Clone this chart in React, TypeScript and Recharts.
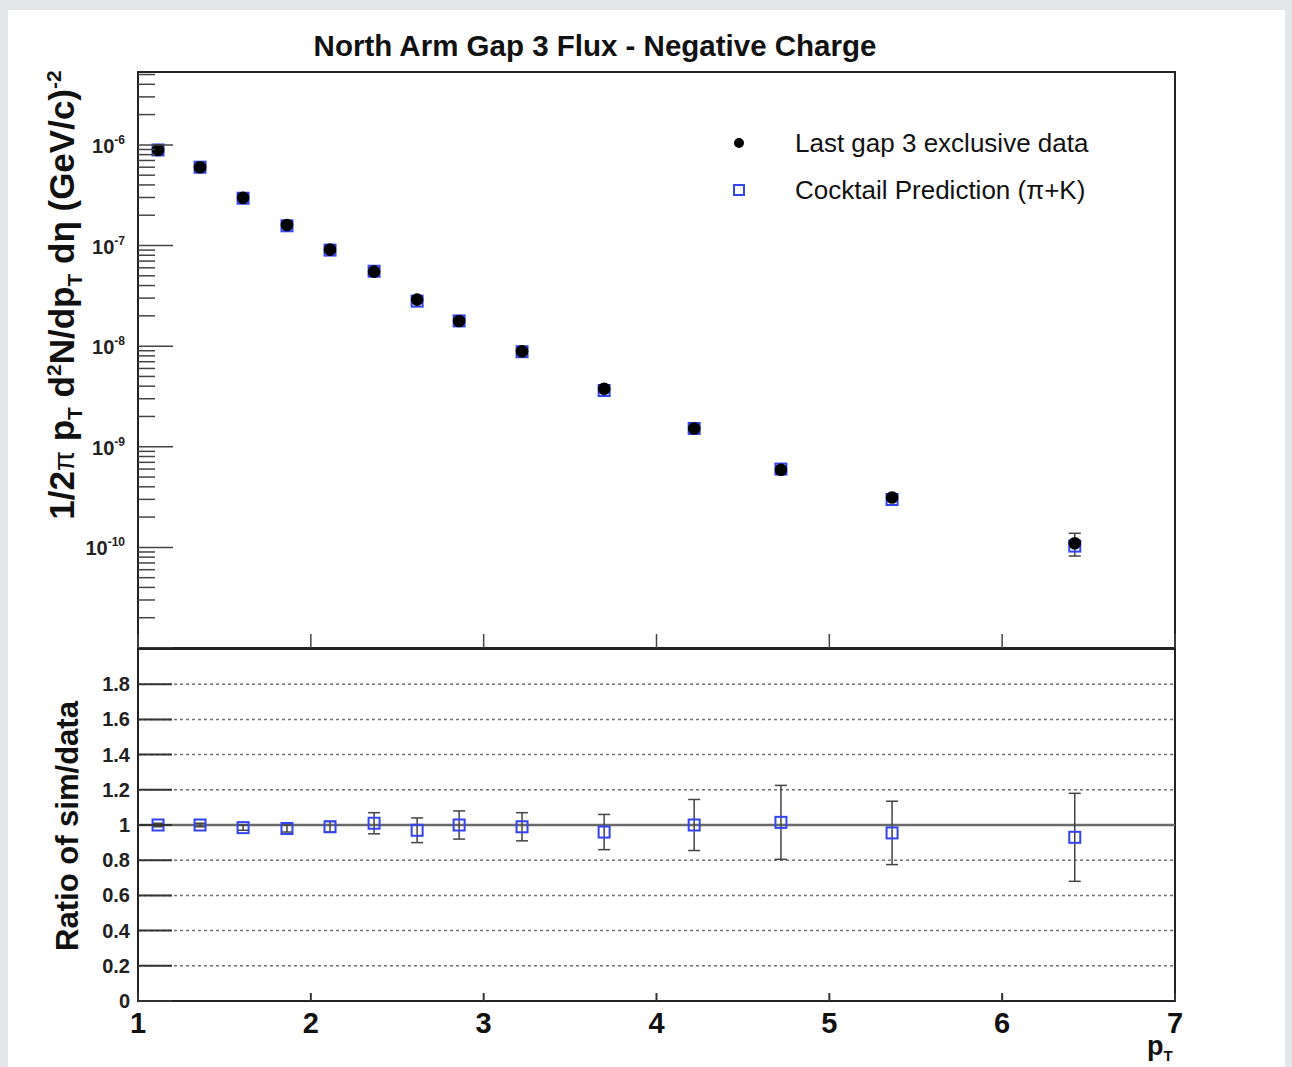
import React from "react"
import {
  ScatterChart,
  Scatter,
  XAxis,
  YAxis,
  ErrorBar,
  CartesianGrid,
  ReferenceLine,
  ReferenceArea,
} from "recharts"

// pT bin centres (GeV/c)
const ptBins = [1.116, 1.359, 1.608, 1.862, 2.111, 2.366, 2.615, 2.858, 3.222, 3.697, 4.218, 4.72, 5.363, 6.42]

// invariant yield, data and cocktail
const dataYield = [8.9e-7, 6.0e-7, 2.98e-7, 1.6e-7, 9.1e-8, 5.5e-8, 2.9e-8, 1.78e-8, 8.9e-9, 3.77e-9, 1.52e-9, 5.9e-10, 3.13e-10, 1.1e-10]
const dataErr = [0, 0, 0, 0, 0, 0, 0, 0, 0, 0, 0, 0.3e-10, 0.15e-10, 0.28e-10]
const cocktailYield = [8.9e-7, 6.0e-7, 2.95e-7, 1.57e-7, 9.0e-8, 5.55e-8, 2.8e-8, 1.78e-8, 8.8e-9, 3.62e-9, 1.52e-9, 6.0e-10, 2.99e-10, 1.03e-10]

// sim / data
const ratio = [1.0, 1.0, 0.985, 0.98, 0.99, 1.01, 0.97, 1.0, 0.99, 0.96, 1.0, 1.015, 0.955, 0.93]
const ratioErr = [0.01, 0.01, 0.015, 0.02, 0.03, 0.06, 0.07, 0.08, 0.08, 0.1, 0.145, 0.21, 0.18, 0.25]

const xTicks = [1, 2, 3, 4, 5, 6, 7]
const ratioTicks = [0, 0.2, 0.4, 0.6, 0.8, 1, 1.2, 1.4, 1.6, 1.8]
const decadeExp = [-11, -10, -9, -8, -7, -6]
const minorSteps = [2, 3, 4, 5, 6, 7, 8, 9]
const logDomain: [number, number] = [1e-11, 5.3e-6]

const logTicks: number[] = []
decadeExp.forEach((e) => {
  logTicks.push(Math.pow(10, e))
  minorSteps.forEach((m) => {
    const v = m * Math.pow(10, e)
    if (v <= logDomain[1]) logTicks.push(v)
  })
})

const FONT = "'Liberation Sans', Arial, Helvetica, sans-serif"
const BLUE = "#3344f0"

const topData = ptBins.map((pt, i) => ({ pt, y: dataYield[i], err: dataErr[i] }))
const cocktailData = ptBins.map((pt, i) => ({ pt, y: cocktailYield[i] }))
const ratioData = ptBins.map((pt, i) => ({ pt, r: ratio[i], err: ratioErr[i] }))

const Dot = (p: any) => <circle cx={p.cx} cy={p.cy} r={6.3} fill="#000" />
const Square = (p: any) => (
  <rect x={p.cx - 5.5} y={p.cy - 5.5} width={11} height={11} fill="none" stroke={BLUE} strokeWidth={2} />
)

function LogTick(props: any) {
  const { x, y, payload } = props
  const v = payload.value
  const exp = Math.round(Math.log10(v))
  const major = Math.abs(v - Math.pow(10, exp)) / v < 1e-6
  return (
    <g>
      <line x1={x} x2={x + (major ? 35 : 17)} y1={y} y2={y} stroke="#444" strokeWidth={1.5} />
      {major && exp > -11 && (
        <text x={x - 13} y={y + 8} textAnchor="end" fontFamily={FONT} fontSize={20} fontWeight="bold" fill="#222">
          10
          <tspan dy={-9} fontSize={12}>
            {exp}
          </tspan>
        </text>
      )}
    </g>
  )
}

function RatioTick(props: any) {
  const { x, y, payload } = props
  return (
    <g>
      <line x1={x} x2={x + 34} y1={y} y2={y} stroke="#333" strokeWidth={2} />
      <text x={x - 8} y={y + 7} textAnchor="end" fontFamily={FONT} fontSize={20} fontWeight="bold" fill="#222">
        {payload.value}
      </text>
    </g>
  )
}

function TopXTick(props: any) {
  const { x, y } = props
  return <line x1={x} x2={x} y1={y} y2={y - 14} stroke="#444" strokeWidth={1.5} />
}

function BottomXTick(props: any) {
  const { x, y, payload } = props
  return (
    <g>
      <line x1={x} x2={x} y1={y} y2={y - 8} stroke="#333" strokeWidth={2} />
      <text x={x} y={y + 32} textAnchor="middle" fontFamily={FONT} fontSize={29} fontWeight="bold" fill="#111">
        {payload.value}
      </text>
    </g>
  )
}

export default function App() {
  return (
    <div style={{ position: "absolute", left: 0, top: 0, width: 1292, height: 1067, background: "#e4e6ea", fontFamily: FONT }}>
      <div style={{ position: "absolute", left: 8, top: 10, width: 1277, height: 1057, background: "#fff" }} />

      <div style={{ position: "absolute", left: 0, top: 0 }}>
        <ScatterChart width={1292} height={680} margin={{ top: 72, left: 78, right: 117, bottom: 12 }}>
          <XAxis
            dataKey="pt"
            type="number"
            domain={[1, 7]}
            ticks={xTicks}
            height={20}
            axisLine={false}
            tickLine={false}
            tickSize={0}
            tickMargin={0}
            tick={<TopXTick />}
          />
          <YAxis
            dataKey="y"
            type="number"
            scale="log"
            domain={logDomain}
            allowDataOverflow
            ticks={logTicks}
            interval={0}
            width={60}
            axisLine={false}
            tickLine={false}
            tickSize={0}
            tickMargin={0}
            tick={<LogTick />}
          />
          <Scatter data={cocktailData} shape={Square} isAnimationActive={false} />
          <Scatter data={topData} shape={Dot} isAnimationActive={false}>
            <ErrorBar dataKey="err" direction="y" width={6} stroke="#444" strokeWidth={1.5} />
          </Scatter>
          <ReferenceArea x1={1} x2={7} y1={logDomain[0]} y2={logDomain[1]} fill="none" stroke="#222" strokeWidth={2} />
        </ScatterChart>
      </div>

      <div style={{ position: "absolute", left: 0, top: 640 }}>
        <ScatterChart width={1292} height={427} margin={{ top: 9, left: 78, right: 117, bottom: 26 }}>
          <CartesianGrid vertical={false} horizontal stroke="#707070" strokeDasharray="3 3" strokeWidth={1.5} />
          <XAxis
            dataKey="pt"
            type="number"
            domain={[1, 7]}
            ticks={xTicks}
            height={40}
            axisLine={false}
            tickLine={false}
            tickSize={0}
            tickMargin={0}
            tick={<BottomXTick />}
          />
          <YAxis
            dataKey="r"
            type="number"
            domain={[0, 2]}
            ticks={ratioTicks}
            interval={0}
            width={60}
            axisLine={false}
            tickLine={false}
            tickSize={0}
            tickMargin={0}
            tick={<RatioTick />}
          />
          <ReferenceLine y={1} stroke="#6a6a6a" strokeWidth={2.5} />
          <Scatter data={ratioData} shape={Square} isAnimationActive={false}>
            <ErrorBar dataKey="err" direction="y" width={6} stroke="#444" strokeWidth={1.5} />
          </Scatter>
          <ReferenceArea x1={1} x2={7} y1={0} y2={2} fill="none" stroke="#222" strokeWidth={2} />
        </ScatterChart>
      </div>

      {/* title */}
      <div style={{ position: "absolute", left: 595, top: 46, transform: "translate(-50%, -50%)", fontSize: 29.5, fontWeight: "bold", color: "#111", whiteSpace: "nowrap" }}>
        North Arm Gap 3 Flux - Negative Charge
      </div>

      {/* legend */}
      <svg style={{ position: "absolute", left: 725, top: 130 }} width={30} height={75}>
        <circle cx={14} cy={13} r={5} fill="#000" />
        <rect x={9} y={55} width={10} height={10} fill="none" stroke={BLUE} strokeWidth={2} />
      </svg>
      <div style={{ position: "absolute", left: 795, top: 143, transform: "translateY(-50%)", fontSize: 26, color: "#111", whiteSpace: "nowrap" }}>
        Last gap 3 exclusive data
      </div>
      <div style={{ position: "absolute", left: 795, top: 190, transform: "translateY(-50%)", fontSize: 26, color: "#111", whiteSpace: "nowrap" }}>
        Cocktail Prediction (π+K)
      </div>

      {/* axis titles */}
      <div style={{ position: "absolute", left: 64, top: 295, transform: "translate(-50%, -50%) rotate(-90deg)", fontSize: 35, fontWeight: "bold", color: "#111", whiteSpace: "nowrap" }}>
        1/2<span style={{ fontWeight: "normal", fontSize: 29 }}>π</span> p<sub style={{ fontSize: 21 }}>T</sub> d<sup style={{ fontSize: 21 }}>2</sup>N/dp<sub style={{ fontSize: 21 }}>T</sub> dη (GeV/c)<sup style={{ fontSize: 21 }}>-2</sup>
      </div>
      <div style={{ position: "absolute", left: 68, top: 826, transform: "translate(-50%, -50%) rotate(-90deg)", fontSize: 31, fontWeight: "bold", color: "#111", whiteSpace: "nowrap" }}>
        Ratio of sim/data
      </div>
      <div style={{ position: "absolute", left: 1147, top: 1033, fontSize: 27, fontWeight: "bold", color: "#111", whiteSpace: "nowrap", lineHeight: 1 }}>
        p<sub style={{ fontSize: 15 }}>T</sub>
      </div>
    </div>
  )
}
